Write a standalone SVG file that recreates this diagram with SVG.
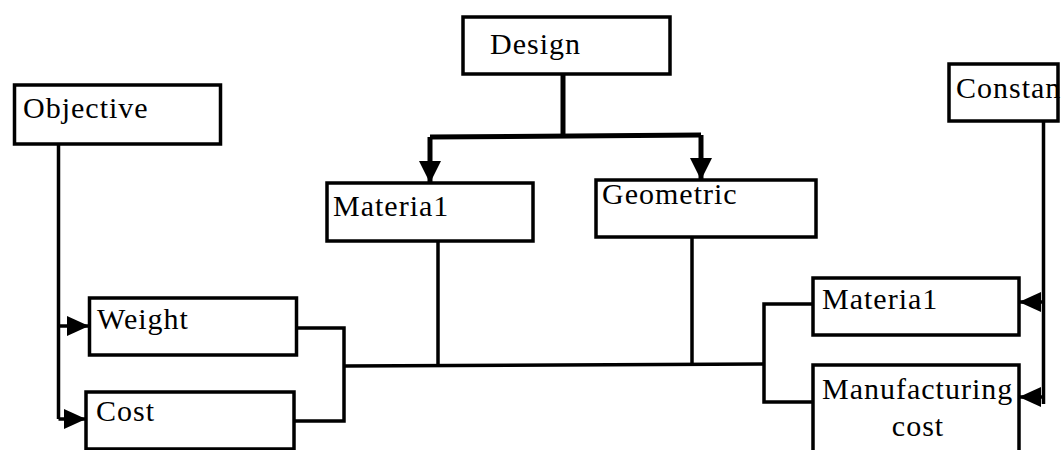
<svg xmlns="http://www.w3.org/2000/svg" width="1063" height="450" viewBox="0 0 1063 450">
<style>
.box{fill:#fff;stroke:#000;stroke-width:3.5}
text{font-family:'Liberation Serif','DejaVu Serif','Times New Roman',serif;font-size:30px;letter-spacing:1px;fill:#000}
.ln{fill:none;stroke:#000;stroke-width:3.5}
.thick{fill:none;stroke:#000;stroke-width:5}
</style>
<defs>
<marker id="ah" markerUnits="userSpaceOnUse" markerWidth="24" markerHeight="22" refX="22" refY="11" orient="auto">
<path d="M0,0 L22,11 L0,22 Z" fill="#000"/>
</marker>
<marker id="ahs" markerUnits="userSpaceOnUse" markerWidth="24" markerHeight="22" refX="22" refY="11" orient="auto">
<path d="M0,1 L22,11 L0,21 Z" fill="#000"/>
</marker>
</defs>
<rect width="1063" height="450" fill="#fff"/>
<g id="connectors">
<path class="thick" d="M563,74 V136"/>
<path class="thick" d="M430,137 L701,135"/>
<path class="thick" d="M430,137 V183" marker-end="url(#ah)"/>
<path class="thick" d="M701,135 V180" marker-end="url(#ah)"/>
<path class="ln" d="M58.5,144 V419"/>
<path class="ln" d="M58.5,326 H89" marker-end="url(#ahs)"/>
<path class="ln" d="M58.5,419 H86" marker-end="url(#ahs)"/>
<path class="ln" d="M297,328 H344 V421 H294"/>
<path class="ln" d="M344,366 L764,364"/>
<path class="ln" d="M438,241 V366"/>
<path class="ln" d="M692,237 V364"/>
<path class="ln" d="M813,304 H764 V402 H813"/>
<path class="ln" d="M1043.5,121 V404"/>
<path class="ln" d="M1043.5,302 H1019" marker-end="url(#ahs)"/>
<path class="ln" d="M1043.5,397 H1019" marker-end="url(#ahs)"/>
</g>
<g id="design"><rect class="box" x="463" y="17" width="207" height="57"/><text x="490" y="54">Design</text></g>
<g id="objective"><rect class="box" x="14.5" y="85" width="206" height="59"/><text x="23" y="118">Objective</text></g>
<g id="material-design"><rect class="box" x="327" y="183" width="206" height="58"/><text x="333" y="216">Materia1</text></g>
<g id="geometric"><rect class="box" x="596" y="180" width="220" height="57"/><text x="602" y="204">Geometric</text></g>
<g id="constraint"><text x="956" y="98">Constan</text><rect class="box" style="fill:none" x="949" y="64" width="109" height="57"/></g>
<g id="weight"><rect class="box" x="89.5" y="298" width="207" height="57"/><text x="97" y="329">Weight</text></g>
<g id="cost"><rect class="box" x="86" y="392" width="208" height="57"/><text x="96" y="421">Cost</text></g>
<g id="material-constraint"><rect class="box" x="813" y="278" width="206" height="57"/><text x="822" y="309">Materia1</text></g>
<g id="manufacturing-cost"><rect class="box" x="813" y="365" width="206" height="100"/><text x="822" y="399">Manufacturing</text><text x="918" y="436" text-anchor="middle">cost</text></g>
</svg>
